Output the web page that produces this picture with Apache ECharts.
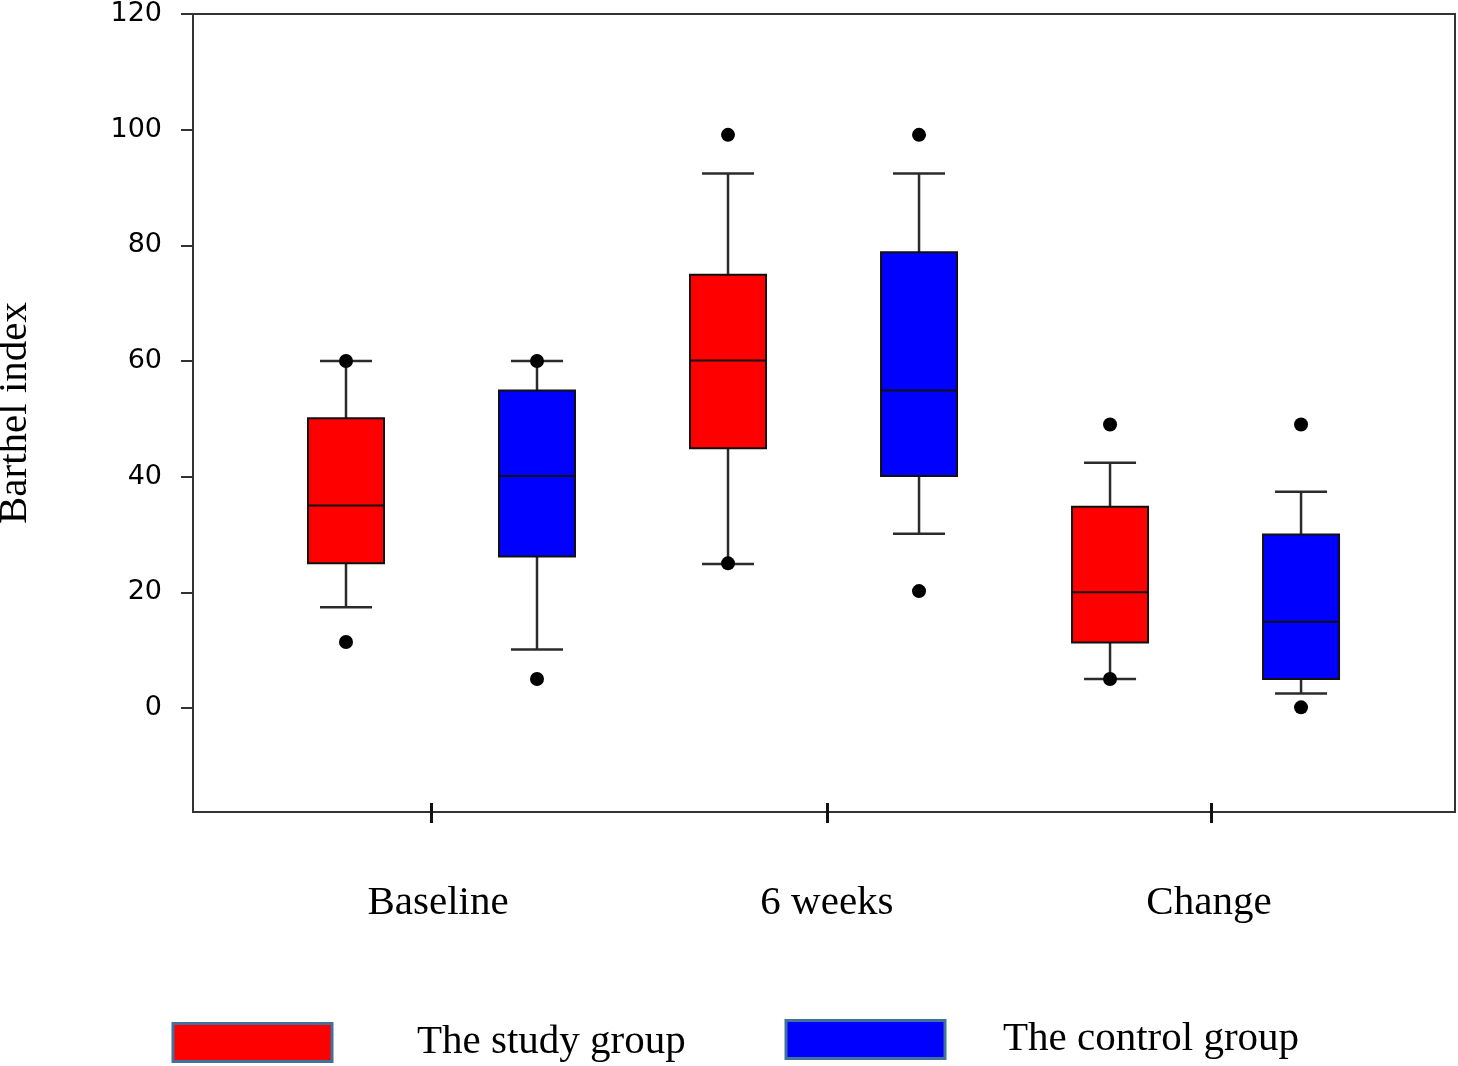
<!DOCTYPE html>
<html>
<head>
<meta charset="utf-8">
<script src="https://cdn.jsdelivr.net/npm/echarts@6/dist/echarts.min.js"></script>
<style>html,body{margin:0;padding:0;background:#fff;}#c{width:1458px;height:1066px;}</style>
</head>
<body>
<div id="c"></div>
<script>
// ---- data ----
var categories = ['Baseline', '6 weeks', 'Change'];
var groupNames = ['The study group', 'The control group'];
// [lower whisker, Q1, median, Q3, upper whisker]
var studyStats = [[17.4, 25, 35, 50.1, 60], [24.9, 44.9, 60.1, 74.9, 92.4], [5.0, 11.3, 20, 34.8, 42.4]];
var controlStats = [[10.1, 26.2, 40.1, 54.9, 60], [30.1, 40.1, 54.9, 78.8, 92.4], [2.5, 5.0, 14.9, 30.0, 37.4]];
var studyOutliers = [[11.4, 60], [25, 99.1], [5.0, 49.0]];
var controlOutliers = [[5.0, 60], [20.2, 99.1], [0.1, 49.0]];
var yTicks = [0, 20, 40, 60, 80, 100, 120];
// positions of category ticks and labels along the x value axis (box slots 0..5)
var catTickPos = [0.445, 2.518, 4.529];
var catLabelPos = [0.482, 2.518, 4.518];

// ---- build ----
function boxData(stats, offset) {
  return stats.map(function (s, g) { return [2 * g + offset].concat(s); });
}
function outlierData(outs, offset) {
  var r = [];
  outs.forEach(function (arr, g) { arr.forEach(function (v) { r.push([2 * g + offset, v]); }); });
  return r;
}
function renderBox(params, api) {
  var x = api.value(0);
  var lo = api.coord([x, api.value(1)]);
  var q1 = api.coord([x, api.value(2)]);
  var md = api.coord([x, api.value(3)]);
  var q3 = api.coord([x, api.value(4)]);
  var hi = api.coord([x, api.value(5)]);
  var cx = lo[0], bw = 76, cw = 52;
  var wl = {stroke: '#2b2b2b', lineWidth: 2.5};
  return {
    type: 'group',
    children: [
      {type: 'line', shape: {x1: cx, y1: hi[1], x2: cx, y2: q3[1]}, style: wl},
      {type: 'line', shape: {x1: cx, y1: q1[1], x2: cx, y2: lo[1]}, style: wl},
      {type: 'line', shape: {x1: cx - cw / 2, y1: hi[1], x2: cx + cw / 2, y2: hi[1]}, style: wl},
      {type: 'line', shape: {x1: cx - cw / 2, y1: lo[1], x2: cx + cw / 2, y2: lo[1]}, style: wl},
      {type: 'rect', shape: {x: cx - bw / 2, y: q3[1], width: bw, height: q1[1] - q3[1]},
        style: {fill: api.visual('color'), stroke: '#111', lineWidth: 2}},
      {type: 'line', shape: {x1: cx - bw / 2, y1: md[1], x2: cx + bw / 2, y2: md[1]}, style: {stroke: '#111', lineWidth: 2}}
    ]
  };
}

var xMin = -0.801, xMax = 5.806;
var legendCommon = {
  padding: 0, itemWidth: 159, itemHeight: 38, icon: 'rect',
  itemStyle: {borderColor: '#41719C', borderWidth: 3}
};
function legendTextStyle(gap) {
  return {fontFamily: 'Liberation Serif', fontSize: 41, color: '#000', padding: [0, 0, 10, gap]};
}
var chart = echarts.init(document.getElementById('c'));
chart.setOption({
  animation: false,
  backgroundColor: '#fff',
  grid: {left: 193, right: 3, top: 14, bottom: 254, show: true, borderColor: '#333', borderWidth: 2,
    containLabel: false, outerBoundsMode: 'none'},
  legend: [
    Object.assign({data: [groupNames[0]], left: 171.5, top: 1022, textStyle: legendTextStyle(80)}, legendCommon),
    Object.assign({data: [groupNames[1]], left: 784.5, top: 1019, textStyle: legendTextStyle(53)}, legendCommon)
  ],
  xAxis: [{
    type: 'value', min: xMin, max: xMax, position: 'bottom',
    splitLine: {show: false},
    axisLine: {show: true, onZero: false, lineStyle: {color: '#333', width: 2}},
    axisTick: {show: true, customValues: catTickPos, length: 11, lineStyle: {color: '#111', width: 3}},
    axisLabel: {
      customValues: catLabelPos, margin: 71,
      fontFamily: 'Liberation Serif', fontSize: 41, color: '#000',
      formatter: function (v) {
        for (var i = 0; i < catLabelPos.length; i++) if (Math.abs(v - catLabelPos[i]) < 1e-6) return categories[i];
        return '';
      }
    }
  }, {
    type: 'value', min: xMin, max: xMax, position: 'bottom',
    splitLine: {show: false},
    axisLine: {show: false, onZero: false},
    axisTick: {show: true, inside: true, customValues: catTickPos, length: 9, lineStyle: {color: '#111', width: 3}},
    axisLabel: {show: false}
  }],
  yAxis: {
    type: 'value', min: -18, max: 120,
    name: 'Barthel index', nameLocation: 'middle', nameGap: 157,
    nameTextStyle: {fontFamily: 'Liberation Serif', fontSize: 41, color: '#000'},
    splitLine: {show: false},
    axisLine: {show: true, onZero: false, lineStyle: {color: '#333', width: 2}},
    axisTick: {show: true, customValues: yTicks, length: 12, lineStyle: {color: '#333', width: 2}},
    axisLabel: {customValues: yTicks, margin: 31, fontFamily: 'DejaVu Sans', fontSize: 27, color: '#000'}
  },
  series: [
    {name: groupNames[0], type: 'custom', renderItem: renderBox, itemStyle: {color: '#FF0000'},
      encode: {x: 0, y: [1, 2, 3, 4, 5]}, data: boxData(studyStats, 0)},
    {name: groupNames[1], type: 'custom', renderItem: renderBox, itemStyle: {color: '#0000FF'},
      encode: {x: 0, y: [1, 2, 3, 4, 5]}, data: boxData(controlStats, 1)},
    {name: 'outliers study', type: 'scatter', symbolSize: 14, itemStyle: {color: '#000', opacity: 1}, z: 5,
      data: outlierData(studyOutliers, 0)},
    {name: 'outliers control', type: 'scatter', symbolSize: 14, itemStyle: {color: '#000', opacity: 1}, z: 5,
      data: outlierData(controlOutliers, 1)}
  ]
});
</script>
</body>
</html>
